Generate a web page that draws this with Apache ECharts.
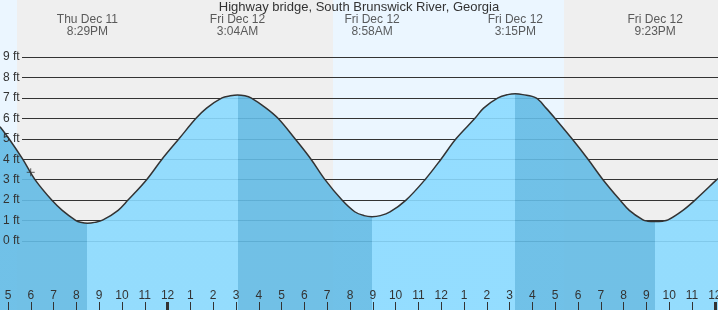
<!DOCTYPE html>
<html>
<head>
<meta charset="utf-8">
<script src="https://cdn.jsdelivr.net/npm/echarts@6/dist/echarts.min.js"></script>
<style>
html, body { margin: 0; padding: 0; background: #efefef; }
#chart { width: 718px; height: 310px; }
</style>
</head>
<body>
<div id="chart"></div>
<script>
// ---------------- DATA ----------------
const titleText = 'Highway bridge, South Brunswick River, Georgia';

// Tide curve readings: hours since Thu Dec 11 00:00, water level in ft
const tideHours = [16.649, 17.044, 17.645, 18.184, 18.917, 19.380, 19.982, 20.180, 20.483, 20.800,
  21.167, 21.830, 22.263, 23.080, 23.754, 24.500, 25.246, 25.710, 26.386, 26.750,
  27.067, 27.390, 27.658, 28.320, 28.842, 29.588, 30.289, 30.904, 31.649, 32.206,
  32.620, 32.967, 33.330, 33.754, 34.456, 35.289, 35.991, 36.649, 37.480, 37.860,
  38.490, 38.920, 39.250, 39.580, 40.158, 40.600, 40.991, 41.737, 42.439, 43.096,
  43.842, 44.250, 44.851, 45.050, 45.383, 45.700, 45.947, 46.600, 47.132, 48.083,
  48.140];
const tideHeights = [5.59, 5.0, 4.0, 3.0, 2.0, 1.5, 1.0, 0.92, 0.87, 0.91,
  1.03, 1.5, 2.0, 3.0, 4.0, 5.0, 6.0, 6.5, 7.0, 7.10,
  7.14, 7.10, 7.0, 6.5, 6.0, 5.0, 4.0, 3.0, 2.0, 1.43,
  1.24, 1.19, 1.24, 1.42, 2.0, 3.0, 4.0, 5.0, 6.0, 6.5,
  7.0, 7.16, 7.2, 7.16, 7.0, 6.5, 6.0, 5.0, 4.0, 3.0,
  2.0, 1.5, 1.03, 0.97, 0.95, 0.97, 1.03, 1.5, 2.0, 3.0,
  3.06];

// High / low tide events
const extremeHours = [20.483, 27.067, 32.967, 39.250, 45.383];
const extremeHeights = [0.87, 7.14, 1.19, 7.2, 0.95];
const extremeDays = ['Thu Dec 11', 'Fri Dec 12', 'Fri Dec 12', 'Fri Dec 12', 'Fri Dec 12'];
const extremeTimes = ['8:29PM', '3:04AM', '8:58AM', '3:15PM', '9:23PM'];

// Daylight / night bands (hours)
const bandStarts = [16.649, 17.395, 31.254, 41.386];
const bandEnds = [17.395, 31.254, 41.386, 48.140];
const bandIsDay = [1, 0, 1, 0];

// Current-time marker
const nowHour = [17.996];
const nowHeight = [3.36];

// Axis ticks and labels
const hourTicks = [17, 18, 19, 20, 21, 22, 23, 24, 25, 26, 27, 28, 29, 30, 31, 32,
  33, 34, 35, 36, 37, 38, 39, 40, 41, 42, 43, 44, 45, 46, 47, 48];
const hourLabels = ['5', '6', '7', '8', '9', '10', '11', '12', '1', '2', '3', '4', '5', '6', '7', '8',
  '9', '10', '11', '12', '1', '2', '3', '4', '5', '6', '7', '8', '9', '10', '11', '12'];
const midnightTicks = [24, 48];
const ftTicks = [0, 1, 2, 3, 4, 5, 6, 7, 8, 9];
const ftLabels = ['0 ft', '1 ft', '2 ft', '3 ft', '4 ft', '5 ft', '6 ft', '7 ft', '8 ft', '9 ft'];

// Axis ranges
const X_MIN = 16.649, X_MAX = 48.14;
const Y_MIN = -3.376, Y_MAX = 11.789;

// ---------------- STYLE ----------------
const H = 310;
const FONT = '"Liberation Sans", Arial, sans-serif';
const TEXT = '#333';
const NIGHT = '#efefef';
const DAY = '#ebf6ff';
const FILL_RISE = 'rgb(138,218,255)';
const FILL_FALL = 'rgb(99,187,229)';
const LABEL_PX = 26;
const SMOOTH = 0.36;

const span = Y_MAX - Y_MIN;
const gridTop = H * (Y_MAX - ftTicks[ftTicks.length - 1]) / span;
const gridBottom = H * (ftTicks[0] - Y_MIN) / span;
const labelY = Y_MAX - LABEL_PX * span / H;

const tidePoints = tideHours.map((h, i) => [h, tideHeights[i]]);

// Colour pieces: falling tide darker, rising tide lighter
const bounds = [X_MIN].concat(extremeHours, [X_MAX]);
const pieces = [];
for (let i = 0; i < bounds.length - 1; i++) {
  const startVal = i === 0 ? tideHeights[0] : extremeHeights[i - 1];
  const endVal = i === bounds.length - 2 ? tideHeights[tideHeights.length - 1] : extremeHeights[i];
  const p = { gte: bounds[i], color: endVal < startVal ? FILL_FALL : FILL_RISE };
  if (i === bounds.length - 2) p.lte = bounds[i + 1]; else p.lt = bounds[i + 1];
  pieces.push(p);
}

const hidden = { show: false };
const noLine = { show: false, onZero: false };

const chart = echarts.init(document.getElementById('chart'), null, { renderer: 'canvas' });
chart.setOption({
  animation: false,
  backgroundColor: NIGHT,
  textStyle: { fontFamily: FONT },
  title: {
    text: titleText, left: 'center', top: 1, padding: 0,
    textStyle: { fontSize: 13, fontWeight: 'normal', color: TEXT, fontFamily: FONT }
  },
  grid: [
    { left: 0, right: 0, top: 0, bottom: 0, containLabel: false, outerBoundsMode: 'none' },
    { left: 22, right: 0, top: gridTop, bottom: gridBottom, containLabel: false, outerBoundsMode: 'none' }
  ],
  xAxis: [
    {
      gridIndex: 0, type: 'value', min: X_MIN, max: X_MAX, position: 'bottom', z: 10,
      axisLine: noLine, splitLine: hidden,
      axisTick: { show: true, inside: true, length: 8, customValues: hourTicks, lineStyle: { color: TEXT, width: 1 } },
      axisLabel: {
        show: true, inside: true, margin: 8, customValues: hourTicks,
        formatter: v => hourLabels[hourTicks.indexOf(Math.round(v))],
        color: TEXT, fontSize: 12, fontFamily: FONT
      }
    },
    {
      gridIndex: 0, type: 'value', min: X_MIN, max: X_MAX, position: 'bottom', offset: 0, z: 11,
      axisLine: noLine, splitLine: hidden, axisLabel: hidden,
      axisTick: { show: true, inside: true, length: 8, customValues: midnightTicks, lineStyle: { color: TEXT, width: 3 } }
    },
    {
      gridIndex: 1, type: 'value', min: X_MIN, max: X_MAX, show: false,
      axisLine: noLine, axisTick: hidden, axisLabel: hidden, splitLine: hidden
    }
  ],
  yAxis: [
    {
      gridIndex: 0, type: 'value', min: Y_MIN, max: Y_MAX, show: false,
      axisLine: noLine, axisTick: hidden, axisLabel: hidden, splitLine: hidden
    },
    {
      gridIndex: 1, type: 'value', min: ftTicks[0], max: ftTicks[ftTicks.length - 1], interval: 1, z: 1,
      axisLine: noLine, axisTick: hidden, axisLabel: hidden,
      splitLine: { show: true, lineStyle: { color: TEXT, width: 1 } }
    },
    {
      gridIndex: 1, type: 'value', min: ftTicks[0], max: ftTicks[ftTicks.length - 1], interval: 1,
      position: 'left', offset: 0, z: 10,
      axisLine: noLine, axisTick: hidden, splitLine: hidden,
      axisLabel: {
        show: true, align: 'left', margin: 19,
        formatter: v => ftLabels[ftTicks.indexOf(v)],
        color: TEXT, fontSize: 12, fontFamily: FONT
      }
    }
  ],
  visualMap: { type: 'piecewise', show: false, seriesIndex: 1, dimension: 0, pieces: pieces },
  series: [
    {
      type: 'custom', xAxisIndex: 0, yAxisIndex: 0, z: 0, silent: true,
      data: bandStarts.map((s, i) => [s, bandEnds[i], bandIsDay[i]]),
      renderItem: function (params, api) {
        const a = api.coord([api.value(0), Y_MAX]);
        const b = api.coord([api.value(1), Y_MIN]);
        return {
          type: 'rect',
          shape: { x: a[0], y: a[1], width: b[0] - a[0], height: b[1] - a[1] },
          style: { fill: api.value(2) === 1 ? DAY : NIGHT }
        };
      }
    },
    {
      type: 'line', xAxisIndex: 0, yAxisIndex: 0, z: 2, data: tidePoints,
      smooth: SMOOTH, symbol: 'none', silent: true,
      lineStyle: { width: 0 },
      areaStyle: { opacity: 0.9, origin: 'start' }
    },
    {
      type: 'line', xAxisIndex: 0, yAxisIndex: 0, z: 3, data: tidePoints,
      smooth: SMOOTH, symbol: 'none', silent: true,
      lineStyle: { color: TEXT, width: 1.5 }
    },
    {
      type: 'scatter', xAxisIndex: 0, yAxisIndex: 0, z: 4, silent: true,
      data: nowHour.map((h, i) => [h, nowHeight[i]]),
      symbol: 'path://M0,5L10,5M5,0L5,10', symbolSize: 8,
      itemStyle: { color: 'none', borderColor: TEXT, borderWidth: 1 }
    },
    {
      type: 'scatter', xAxisIndex: 0, yAxisIndex: 0, z: 5, silent: true,
      data: extremeHours.map((h, i) => [h, labelY, i]),
      symbolSize: 0,
      label: {
        show: true, position: 'inside',
        formatter: p => extremeDays[p.data[2]] + '\n' + extremeTimes[p.data[2]],
        color: TEXT, fontSize: 12, lineHeight: 12, fontFamily: FONT
      }
    }
  ]
});
</script>
</body>
</html>
